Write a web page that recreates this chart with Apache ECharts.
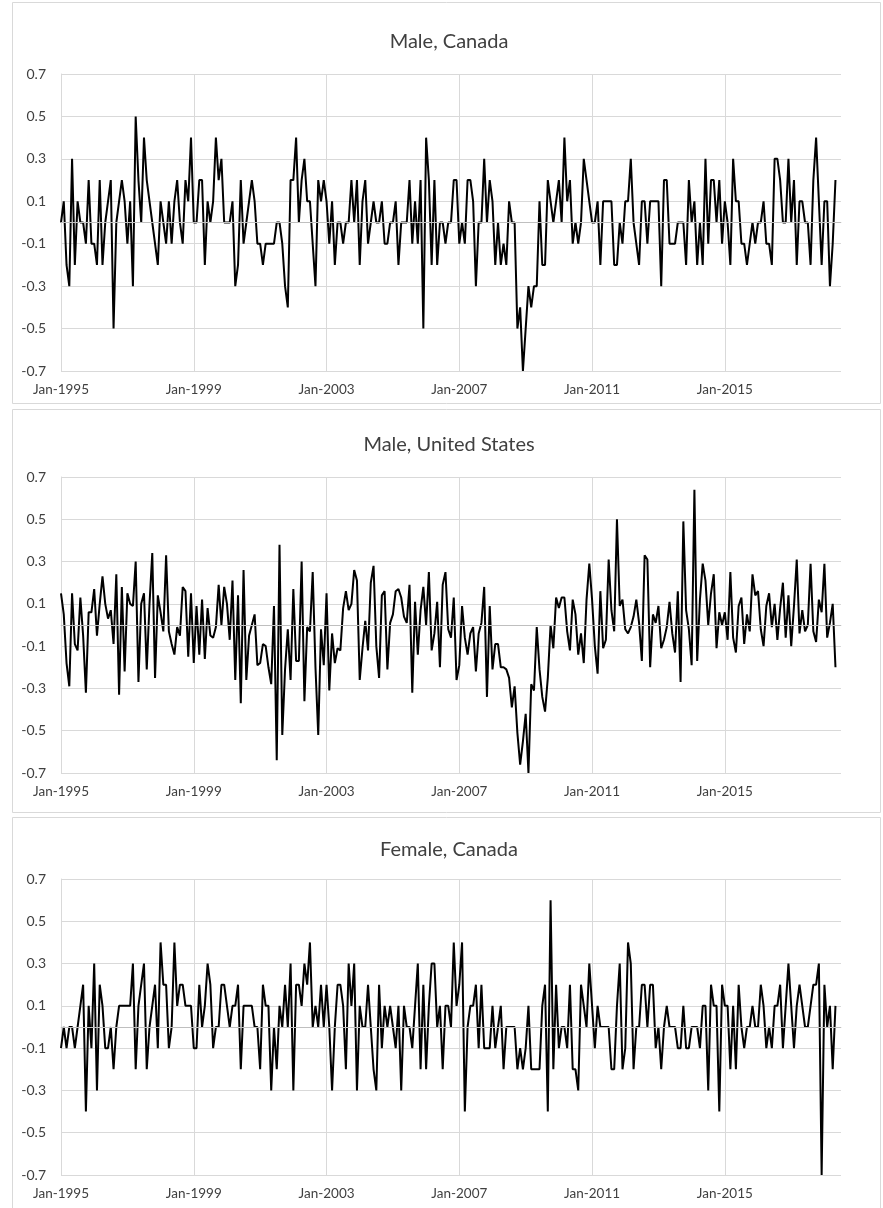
<!DOCTYPE html>
<html>
<head>
<meta charset="utf-8">
<script src="https://cdn.jsdelivr.net/npm/echarts@6/dist/echarts.min.js"></script>
<style>
  html, body { margin: 0; padding: 0; background: #fff; }
  #chart { width: 883px; height: 1208px; }
</style>
</head>
<body>
<div id="chart"></div>
<script>
// ---------------- DATA ----------------
const panelTitles = ['Male, Canada', 'Male, United States', 'Female, Canada'];
const xTickLabels = ['Jan-1995', 'Jan-1999', 'Jan-2003', 'Jan-2007', 'Jan-2011', 'Jan-2015'];
const yTickLabels = ['-0.7', '-0.5', '-0.3', '-0.1', '0.1', '0.3', '0.5', '0.7'];

// Monthly categories Jan-1995 .. Jul-2018 (axis extent)
const monthNames = ['Jan','Feb','Mar','Apr','May','Jun','Jul','Aug','Sep','Oct','Nov','Dec'];
const categories = [];
for (let k = 0; k < 283; k++) {
  categories.push(monthNames[k % 12] + '-' + (1995 + Math.floor(k / 12)));
}

const maleCanada = [
  0, 0.1, -0.2, -0.3, 0.3, -0.2, 0.1, 0, 0, -0.1,
  0.2, -0.1, -0.1, -0.2, 0.2, -0.2, 0, 0.1, 0.2, -0.5,
  0, 0.1, 0.2, 0.1, -0.1, 0.1, -0.3, 0.5, 0.2, 0,
  0.4, 0.2, 0.1, 0, -0.1, -0.2, 0.1, 0, -0.1, 0.1,
  -0.1, 0.1, 0.2, 0, -0.1, 0.2, 0.1, 0.4, 0, 0,
  0.2, 0.2, -0.2, 0.1, 0, 0.1, 0.4, 0.2, 0.3, 0,
  0, 0, 0.1, -0.3, -0.2, 0.2, -0.1, 0, 0.1, 0.2,
  0.1, -0.1, -0.1, -0.2, -0.1, -0.1, -0.1, -0.1, 0, 0,
  -0.1, -0.3, -0.4, 0.2, 0.2, 0.4, 0, 0.2, 0.3, 0.1,
  0.1, -0.1, -0.3, 0.2, 0.1, 0.2, 0.1, -0.1, 0.1, -0.2,
  0, 0, -0.1, 0, 0, 0.2, 0, 0.2, -0.2, 0.1,
  0.2, -0.1, 0, 0.1, 0, 0, 0.1, -0.1, -0.1, 0,
  0, 0.1, -0.2, 0, 0, 0, 0.2, -0.1, 0.1, -0.1,
  0.2, -0.5, 0.4, 0.2, -0.2, 0.2, -0.2, 0, 0, -0.1,
  0, 0, 0.2, 0.2, -0.1, 0, -0.1, 0.2, 0.2, 0.1,
  -0.3, 0, 0, 0.3, 0, 0.2, 0.1, -0.2, 0, -0.2,
  -0.1, -0.2, 0.1, 0, 0, -0.5, -0.4, -0.7, -0.5, -0.3,
  -0.4, -0.3, -0.3, 0.1, -0.2, -0.2, 0.2, 0.1, 0, 0.1,
  0.2, 0, 0.4, 0.1, 0.2, -0.1, 0, -0.1, 0, 0.3,
  0.2, 0.1, 0, 0, 0.1, -0.2, 0.1, 0.1, 0.1, 0.1,
  -0.2, -0.2, 0, -0.1, 0.1, 0.1, 0.3, 0, -0.1, -0.2,
  0.1, 0.1, -0.1, 0.1, 0.1, 0.1, 0.1, -0.3, 0.2, 0.2,
  -0.1, -0.1, -0.1, 0, 0, 0, -0.2, 0.2, 0, 0.1,
  -0.2, 0, -0.2, 0.3, -0.1, 0.2, 0.2, 0, 0.2, -0.1,
  0.1, 0, -0.2, 0.3, 0.1, 0.1, -0.1, -0.1, -0.2, -0.1,
  0, -0.1, 0, 0, 0.1, -0.1, -0.1, -0.2, 0.3, 0.3,
  0.2, 0, 0, 0.3, 0, 0.2, -0.2, 0.1, 0.1, 0,
  0, -0.2, 0.2, 0.4, 0.1, -0.2, 0.1, 0.1, -0.3, -0.1, 0.2
];

const maleUS = [
  0.15, 0.05, -0.18, -0.29, 0.15, -0.09, -0.12, 0.13, -0.05, -0.32,
  0.06, 0.06, 0.17, -0.05, 0.1, 0.23, 0.1, 0.03, 0.07, -0.09,
  0.24, -0.33, 0.18, -0.22, 0.15, 0.1, 0.09, 0.3, -0.27, 0.1,
  0.15, -0.21, 0.1, 0.34, -0.25, 0.14, 0.06, -0.03, 0.33, -0.03,
  -0.09, -0.14, -0.01, -0.05, 0.18, 0.16, -0.15, 0.15, -0.18, 0.09,
  -0.14, 0.12, -0.16, 0.08, -0.05, -0.06, -0.01, 0.19, 0, 0.18,
  0.1, -0.07, 0.21, -0.26, 0.14, -0.37, 0.26, -0.26, -0.05,
  0.0, 0.05, -0.19, -0.18, -0.09, -0.1, -0.2, -0.28, 0.09, -0.64,
  0.38, -0.52, -0.21, -0.02, -0.26, 0.17, -0.17, -0.17, 0.3, -0.36,
  -0.01, -0.03, 0.25, -0.2, -0.52, -0.02, -0.19, 0.15, -0.31, -0.04,
  -0.18, -0.11, -0.12, 0.08, 0.16, 0.07, 0.1, 0.26, 0.21, -0.26,
  -0.11, 0.02, -0.12, 0.2, 0.28, -0.1, -0.25, 0.14, 0.16, -0.21,
  0.01, 0.05, 0.16, 0.17, 0.13, 0.04, 0.01, 0.19, -0.32, 0.11,
  -0.14, 0.07, 0.18, 0.0, 0.25, -0.12, -0.04, 0.11, -0.2, 0.19,
  0.25, -0.02, -0.06, 0.13, -0.26, -0.19, 0.09, -0.06, -0.14, -0.04,
  -0.01, -0.22, -0.04, 0.01, 0.18, -0.34, 0.09, -0.21, -0.09, -0.09,
  -0.2, -0.2, -0.21, -0.25, -0.39, -0.29, -0.51, -0.66, -0.55, -0.42,
  -0.7, -0.28, -0.31, -0.01, -0.21, -0.34, -0.41, -0.25, 0.0, -0.11,
  0.13, 0.08, 0.13, 0.13, -0.03, -0.12, 0.12, 0.05, -0.14, -0.04,
  -0.18, 0.12, 0.29, 0.12, -0.1, -0.23, 0.16, -0.11, -0.07, 0.31,
  0.07, -0.03, 0.5, 0.09, 0.12, -0.02, -0.04, -0.01, 0.04, 0.12,
  0.01, -0.17, 0.33, 0.31, -0.2, 0.05, 0.01, 0.09, -0.11, -0.07,
  -0.01, 0.11, -0.04, -0.13, 0.16, -0.27, 0.49, 0.07, -0.02, -0.19,
  0.64, -0.17, 0.12, 0.29, 0.21, 0.0, 0.15, 0.24, -0.11, 0.06,
  0.0, 0.06, -0.07, 0.25, -0.06, -0.13, 0.09, 0.13, -0.09, 0.05,
  -0.03, 0.24, 0.14, 0.16, -0.02, -0.1, 0.09, 0.15, -0.01, 0.1,
  -0.07, 0.08, 0.2, -0.06, 0.14, -0.1, 0.09, 0.31, -0.04, 0.07,
  -0.03, 0.0, 0.29, -0.03, -0.08, 0.12, 0.06, 0.29, -0.06, 0.01, 0.1, -0.2
];

const femaleCanada = [
  -0.1, 0, -0.1, 0, 0, -0.1, 0, 0.1, 0.2, -0.4,
  0.1, -0.1, 0.3, -0.3, 0.2, 0.1, -0.1, -0.1, 0, -0.2,
  0, 0.1, 0.1, 0.1, 0.1, 0.1, 0.3, -0.2, 0.1, 0.2,
  0.3, -0.2, 0, 0.1, 0.2, -0.1, 0.4, 0.2, 0.2, -0.1,
  0, 0.4, 0.1, 0.2, 0.2, 0.1, 0.1, 0.1, -0.1, -0.1,
  0.2, 0, 0.1, 0.3, 0.2, -0.1, 0, 0, 0.2, 0.2,
  0.1, 0, 0.1, 0.1, 0.2, -0.2, 0.1, 0.1, 0.1, 0.1,
  0, 0, -0.2, 0.2, 0.1, 0.1, -0.3, 0, -0.2, 0.1,
  0, 0.2, 0, 0.3, -0.3, 0.2, 0.2, 0.1, 0.3, 0.2,
  0.4, 0, 0.1, 0, 0.2, 0, 0.2, 0, -0.3, 0,
  0.2, 0.2, 0.1, -0.2, 0.3, 0.1, 0.3, -0.3, 0.1, 0,
  0, 0.2, 0, -0.2, -0.3, 0.2, -0.1, 0.1, 0, 0.1,
  0, -0.1, 0.1, -0.3, 0.1, 0, 0, -0.1, 0.1, 0.3,
  -0.2, 0.2, -0.2, 0.1, 0.3, 0.3, 0, 0.1, -0.2, 0.1,
  0.1, 0, 0.4, 0.1, 0.2, 0.4, -0.4, 0, 0.1, 0.1,
  0.2, -0.1, 0.2, -0.1, -0.1, -0.1, 0.1, -0.1, 0, 0.1,
  -0.2, 0, 0, 0, 0, -0.2, -0.1, -0.2, -0.1, 0.1,
  -0.2, -0.2, -0.2, -0.2, 0.1, 0.2, -0.4, 0.6, -0.2, 0.2,
  -0.1, 0, 0, -0.1, 0.2, -0.2, -0.2, -0.3, 0.2, 0.1,
  0, 0.3, 0.1, -0.1, 0.1, 0, 0, 0, 0, -0.2,
  -0.2, 0.1, 0.3, -0.2, -0.1, 0.4, 0.3, -0.2, 0, 0,
  0.2, 0.2, 0, 0.2, 0.2, -0.1, 0, -0.2, 0, 0.1,
  0, 0, 0, -0.1, -0.1, 0.1, -0.1, -0.1, 0, 0,
  0, -0.1, 0.1, 0.1, -0.3, 0.2, 0.1, 0.1, -0.4, 0.2,
  0.1, 0.1, -0.2, 0.1, -0.2, 0.2, 0, -0.1, 0, 0,
  0.1, 0, 0, 0.2, 0.1, -0.1, 0, -0.1, 0.1, 0.1,
  0.2, -0.1, 0.1, 0.3, 0.1, -0.1, 0.1, 0.2, 0.1, 0,
  0, 0.1, 0.2, 0.2, 0.3, -0.7, 0.2, 0, 0.1, -0.2, 0.1
];

const seriesData = [maleCanada, maleUS, femaleCanada];

// ---------------- LAYOUT ----------------
const FONT = 'Lato, "Open Sans", sans-serif';
const TXT = '#404040';
const GRIDC = '#d9d9d9';
const panels = [
  { frameTop: 2,   frameH: 401, titleTop: 27,  plotTop: 74,  plotH: 297 },
  { frameTop: 409, frameH: 403, titleTop: 430, plotTop: 477, plotH: 296 },
  { frameTop: 817, frameH: 395, titleTop: 835, plotTop: 879, plotH: 296 }
];

const option = {
  animation: false,
  backgroundColor: '#ffffff',
  title: panels.map((p, i) => ({
    text: panelTitles[i],
    left: 444, top: p.titleTop, textAlign: 'center',
    textStyle: { fontFamily: FONT, fontSize: 20, fontWeight: 'normal', color: TXT }
  })),
  graphic: panels.map(p => ({
    type: 'rect', silent: true, z: -1,
    shape: { x: 12.5, y: p.frameTop + 0.5, width: 868, height: p.frameH },
    style: { fill: 'none', stroke: GRIDC, lineWidth: 1 }
  })),
  grid: panels.map(p => ({ left: 61, width: 780, top: p.plotTop, height: p.plotH })),
  xAxis: panels.map((p, i) => ({
    gridIndex: i, type: 'category', data: categories, boundaryGap: false,
    axisLine: { show: true, lineStyle: { color: GRIDC, width: 1 } },
    axisTick: { show: false },
    axisLabel: {
      interval: 47, margin: 12, color: TXT, fontFamily: FONT, fontSize: 13.5,
      formatter: v => (xTickLabels.indexOf(v) >= 0 ? v : '')
    },
    splitLine: { show: true, interval: 47, lineStyle: { color: GRIDC, width: 1 } }
  })),
  yAxis: panels.map((p, i) => ({
    gridIndex: i, type: 'value', min: -0.7, max: 0.7, interval: 0.2,
    axisLine: { show: true, lineStyle: { color: GRIDC, width: 1 } },
    axisTick: { show: false },
    axisLabel: {
      margin: 15, color: TXT, fontFamily: FONT, fontSize: 14,
      formatter: v => {
        const s = (Math.round(v * 10) / 10).toFixed(1);
        return yTickLabels.indexOf(s) >= 0 ? s : '';
      }
    },
    splitLine: { show: true, lineStyle: { color: GRIDC, width: 1 } }
  })),
  series: seriesData.map((d, i) => ({
    type: 'line', xAxisIndex: i, yAxisIndex: i, data: d,
    showSymbol: false, symbol: 'none',
    lineStyle: { color: '#000000', width: 2 },
    z: 3,
    markLine: {
      silent: true, symbol: 'none', label: { show: false },
      lineStyle: { color: '#bfbfbf', width: 1, type: 'solid' },
      data: [{ yAxis: 0 }]
    }
  }))
};

const chart = echarts.init(document.getElementById('chart'), null, { renderer: 'canvas' });
chart.setOption(option);
</script>
</body>
</html>
